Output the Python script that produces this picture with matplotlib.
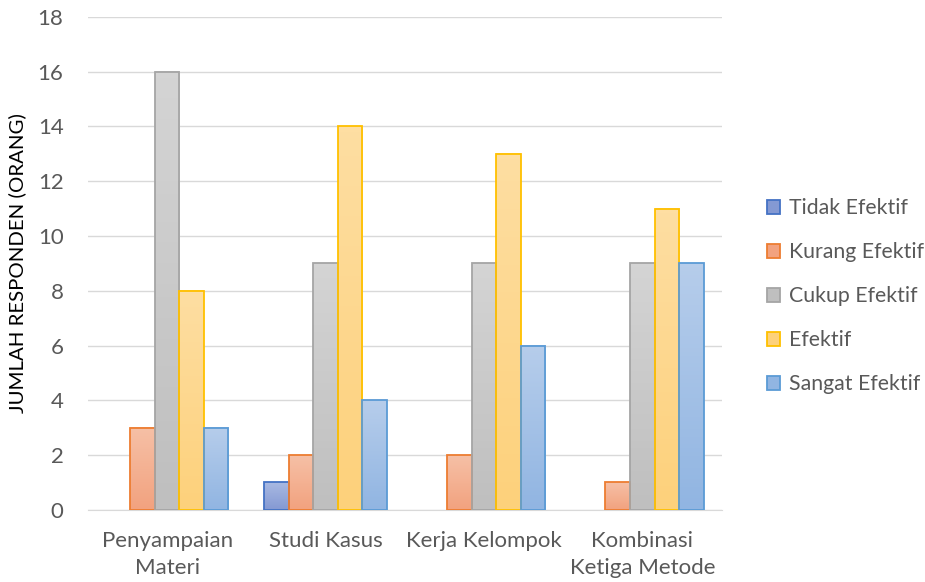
import numpy as np
import matplotlib.pyplot as plt
from matplotlib.colors import LinearSegmentedColormap
from matplotlib.patches import Patch

plt.rcParams['font.family'] = ['Lato', 'DejaVu Sans']

categories = ['Penyampaian\nMateri', 'Studi Kasus', 'Kerja Kelompok', 'Kombinasi\nKetiga Metode']
series_names = ['Tidak Efektif', 'Kurang Efektif', 'Cukup Efektif', 'Efektif', 'Sangat Efektif']
tidak = [0, 1, 0, 0]
kurang = [3, 2, 2, 1]
cukup = [16, 9, 9, 9]
efektif = [8, 14, 13, 11]
sangat = [3, 4, 6, 9]
values = [tidak, kurang, cukup, efektif, sangat]

# (top colour, bottom colour, edge colour)
styles = [('#A9B9E2', '#8499D3', '#4472C4'),
          ('#F6C0A6', '#F2A27F', '#ED7D31'),
          ('#D4D4D4', '#BFBFBF', '#A5A5A5'),
          ('#FEDEA2', '#FDD17B', '#FFC000'),
          ('#B6CDEB', '#91B5E2', '#5B9BD5')]

fig = plt.figure(figsize=(9.25, 5.82), dpi=100)
ax = fig.add_axes([0.095, 0.124, 0.685, 0.847])

x = np.arange(len(categories))
w = 0.155
for i, (vals, st) in enumerate(zip(values, styles)):
    pos = x + (i - 2) * w
    bars = ax.bar(pos, vals, w, facecolor='none', edgecolor=st[2], linewidth=1.3, zorder=3)
    cmap = LinearSegmentedColormap.from_list('g%d' % i, [st[1], st[0]])
    for b in bars:
        if b.get_height() <= 0:
            b.set_visible(False)
            continue
        grad = np.linspace(0, 1, 64).reshape(-1, 1)
        ax.imshow(grad, cmap=cmap, origin='lower', aspect='auto',
                  extent=[b.get_x(), b.get_x() + b.get_width(), 0, b.get_height()], zorder=2)

ax.set_xlim(-0.5, 3.5)
ax.set_ylim(0, 18)
ax.set_yticks(range(0, 19, 2))
ax.set_xticks(x)
ax.set_xticklabels(categories, linespacing=1.45)
ax.grid(axis='y', color='#D9D9D9', linewidth=1, zorder=0)
ax.set_axisbelow(True)
for s in ['top', 'right', 'left']:
    ax.spines[s].set_visible(False)
ax.spines['bottom'].set_color('#D9D9D9')
ax.tick_params(axis='both', length=0, labelsize=16, colors='#595959')
ax.tick_params(axis='x', pad=15)
ax.tick_params(axis='y', pad=17.5)
ax.set_ylabel('JUMLAH RESPONDEN (ORANG)', fontsize=14.7, color='#000000', labelpad=8)

handles = [Patch(facecolor=st[1], edgecolor=st[2], linewidth=1.3) for st in styles]
fig.legend(handles, series_names, loc='center left', bbox_to_anchor=(0.808, 0.491),
           frameon=False, fontsize=15.3, labelcolor='#595959', handlelength=0.63,
           handleheight=0.63, handletextpad=0.42, labelspacing=1.13)

fig.savefig('out.png', dpi=100)
